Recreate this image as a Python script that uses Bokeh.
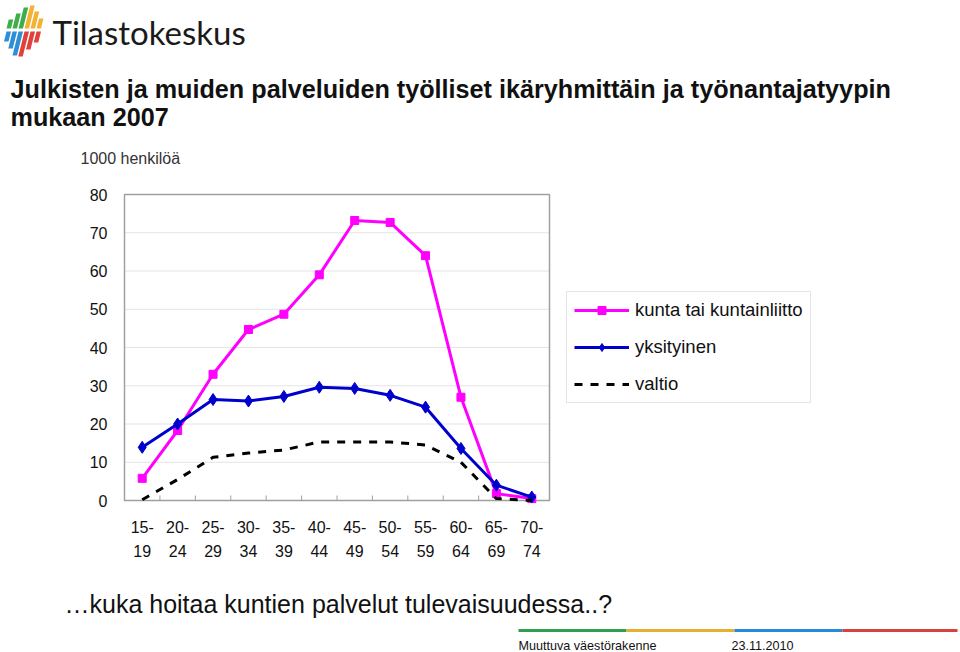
from bokeh.plotting import figure
from bokeh.models import Label, Legend, LegendItem, Range1d
from bokeh.embed import file_html
from bokeh.resources import INLINE

# ---- data ----
age_groups = ["15-19", "20-24", "25-29", "30-34", "35-39", "40-44",
              "45-49", "50-54", "55-59", "60-64", "65-69", "70-74"]
kunta = [5.8, 18.3, 33.0, 44.7, 48.7, 59.0, 73.2, 72.7, 64.0, 27.0, 1.8, 0.5]
yksityinen = [13.9, 20.0, 26.4, 26.0, 27.2, 29.6, 29.3, 27.5, 24.4, 13.6, 4.0, 0.9]
valtio = [0.2, 5.5, 11.3, 12.4, 13.2, 15.3, 15.3, 15.3, 14.5, 10.0, 0.5, 0.0]
series_names = ["kunta tai kuntainliitto", "yksityinen", "valtio"]
y_ticks = [0, 10, 20, 30, 40, 50, 60, 70, 80]

x_pos = list(range(1, len(age_groups) + 1))
boundaries = [i + 0.5 for i in range(1, len(age_groups))]

# ---- geometry (pixels) ----
W, H = 960, 652
FL, FR, FT, FB = 124, 549, 194, 500          # chart box
X0, X1 = 0.5, len(age_groups) + 0.5
Y0, Y1 = 0, 80
sx = (X1 - X0) / (FR - FL)
sy = (Y1 - Y0) / (FB - FT)

p = figure(width=W, height=H, x_range=Range1d(0, W), y_range=Range1d(H, 0),
           x_axis_type=None, y_axis_type=None,
           output_backend="svg", toolbar_location=None,
           min_border=0, min_border_left=0, min_border_right=0,
           min_border_top=0, min_border_bottom=0)
p.outline_line_color = None
p.background_fill_color = "white"
p.border_fill_color = "white"
p.extra_x_ranges = {"cat": Range1d(X0 - FL * sx, X1 + (W - FR) * sx)}
p.extra_y_ranges = {"val": Range1d(Y0 - (H - FB) * sy, Y1 + FT * sy)}

FONT = "Liberation Sans"
TXT = "#111111"
CV = dict(x_range_name="cat", y_range_name="val")

# gridlines
p.segment(x0=[X0] * len(y_ticks), x1=[X1] * len(y_ticks), y0=y_ticks, y1=y_ticks,
          line_color="#e4e4e4", line_width=1, **CV)
# chart box
p.quad(left=[X0], right=[X1], bottom=[Y0], top=[Y1], fill_color=None,
       line_color="#a0a0a0", line_width=1.5, **CV)
# category boundary ticks (inside, at bottom)
p.segment(x0=boundaries, x1=boundaries, y0=[FB] * len(boundaries), y1=[FB - 5] * len(boundaries),
          line_color="#a0a0a0", line_width=1, x_range_name="cat")

# y tick labels
p.text(x=[FL - 17] * len(y_ticks), y=y_ticks, text=[str(t) for t in y_ticks],
       text_font={"value": FONT}, text_font_size="16px", text_color=TXT,
       text_align="right", text_baseline="middle", y_range_name="val")
# x tick labels (two lines)
top_parts = [g.split("-")[0] + "-" for g in age_groups]
bot_parts = [g.split("-")[1] for g in age_groups]
p.text(x=x_pos, y=[526] * len(x_pos), text=top_parts, text_font={"value": FONT},
       text_font_size="16px", text_color=TXT, text_align="center", text_baseline="middle",
       x_range_name="cat")
p.text(x=x_pos, y=[550] * len(x_pos), text=bot_parts, text_font={"value": FONT},
       text_font_size="16px", text_color=TXT, text_align="center", text_baseline="middle",
       x_range_name="cat")

# series
MAG = "#ff00ff"
BLU = "#0000cc"
l1 = p.line(x_pos, kunta, line_color=MAG, line_width=3, **CV)
m1 = p.scatter(x_pos, kunta, marker="square", size=8, fill_color=MAG, line_color=MAG, **CV)
l2 = p.line(x_pos, yksityinen, line_color=BLU, line_width=3, **CV)
m2 = p.scatter(x_pos, yksityinen, marker="diamond", size=12, fill_color=BLU, line_color=BLU, **CV)
l3 = p.line(x_pos, valtio, line_color="black", line_width=3, line_dash="8 8", **CV)

legend = Legend(items=[LegendItem(label=series_names[0], renderers=[l1, m1]),
                       LegendItem(label=series_names[1], renderers=[l2, m2]),
                       LegendItem(label=series_names[2], renderers=[l3])],
                location=(566, H - 403))
legend.label_text_font = FONT
legend.label_text_font_size = "18.5px"
legend.label_text_color = TXT
legend.glyph_width = 55
legend.glyph_height = 20
legend.label_height = 20
legend.spacing = 15
legend.padding = 7
legend.margin = 0
legend.label_standoff = 6
legend.border_line_color = "#cccccc"
legend.border_line_width = 1
legend.background_fill_color = "white"
p.add_layout(legend, "center")


def lab(text, px, py, size, color=TXT, style="normal", font=FONT):
    p.add_layout(Label(x=px, y=py, text=text, text_font=font,
                       text_font_size=size, text_color=color, text_font_style=style,
                       text_align="left", text_baseline="middle"))


lab("Julkisten ja muiden palveluiden työlliset ikäryhmittäin ja työnantajatyypin",
    10, 88, "25.2px", style="bold")
lab("mukaan 2007", 10, 116, "25.2px", style="bold")
lab("1000 henkilöä", 80, 158, "16px", color="#333333")
lab("…kuka hoitaa kuntien palvelut tulevaisuudessa..?", 64, 603, "25px")
lab("Muuttuva väestörakenne", 518, 645, "12.6px")
lab("23.11.2010", 731, 645, "12.6px")
lab("Tilastokeskus", 52, 31, "33px", color="#1a1a1a", font="Lato")

# footer colour bar
fx0 = [518, 626, 734, 842]
fx1 = [626, 734, 842, 957]
p.quad(left=fx0, right=fx1, top=[628.5] * 4, bottom=[631.5] * 4,
       fill_color=["#2e9e4f", "#e8b030", "#2a8ad8", "#d94040"], line_color=None)

# logo bars (slanted parallelograms)
G, Yw, B, R = "#3dae49", "#f2b233", "#2d8fd5", "#e0413a"
xs_list, ys_list, cols = [], [], []
for x0, h, c in [(6, 9, G), (12, 15, G), (18, 21, G), (24, 23, Yw), (30, 17, Yw), (36, 10, Yw)]:
    s = 0.25 * h
    xs_list.append([x0, x0 + 4.5, x0 + 4.5 + s, x0 + s])
    ys_list.append([28, 28, 28 - h, 28 - h])
    cols.append(c)
for x0, h, c in [(6, 10, B), (12, 17, B), (18, 24, B), (24, 25, R), (30, 18, R), (36, 11, R)]:
    s = 0.25 * h
    xs_list.append([x0, x0 + 4.5, x0 + 4.5 - s, x0 - s])
    ys_list.append([31, 31, 31 + h, 31 + h])
    cols.append(c)
p.patches(xs=xs_list, ys=ys_list, fill_color=cols, line_color=None)

open("out.html", "w").write(file_html(p, INLINE))
